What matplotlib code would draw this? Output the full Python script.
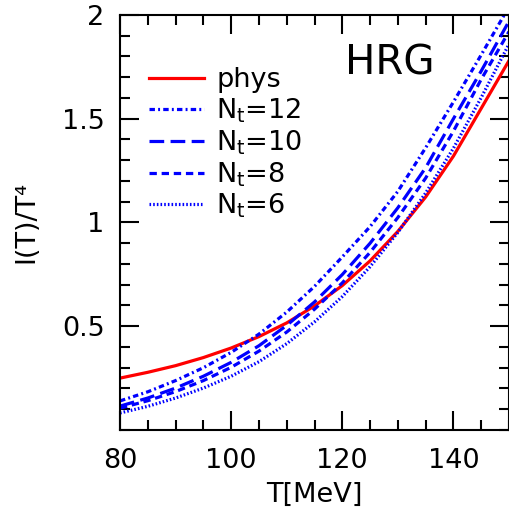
import matplotlib
matplotlib.use("Agg")
import matplotlib.pyplot as plt

plt.rcParams['font.family'] = 'DejaVu Sans'
plt.rcParams['mathtext.default'] = 'regular'

# temperature grid [MeV]
T = [80, 85, 90, 95, 100, 105, 110, 115, 120, 125, 130, 135, 140, 145, 150]

# I(T)/T^4 from the hadron resonance gas
phys = [0.25, 0.278, 0.310, 0.349, 0.395, 0.450, 0.516, 0.598, 0.696, 0.815, 0.957, 1.123, 1.32, 1.55, 1.78]
nt12 = [0.140, 0.184, 0.238, 0.300, 0.374, 0.462, 0.568, 0.692, 0.834, 0.98, 1.15, 1.36, 1.581, 1.808, 2.04]
nt10 = [0.115, 0.154, 0.202, 0.259, 0.326, 0.406, 0.504, 0.617, 0.749, 0.900, 1.071, 1.264, 1.50, 1.73, 1.97]
nt8 = [0.105, 0.141, 0.185, 0.238, 0.302, 0.380, 0.472, 0.582, 0.709, 0.856, 1.024, 1.214, 1.44, 1.69, 1.92]
nt6 = [0.082, 0.114, 0.154, 0.202, 0.259, 0.329, 0.416, 0.521, 0.643, 0.787, 0.952, 1.142, 1.358, 1.602, 1.86]

labels = ['phys', 'N$_t$=12', 'N$_t$=10', 'N$_t$=8', 'N$_t$=6']

fig = plt.figure(figsize=(5.09, 5.12), dpi=100)
ax = fig.add_axes([0.2358, 0.1602, 0.7642, 0.8105])

lw = 2.3
ax.plot(T, phys, color='red', lw=lw, label=labels[0])
ax.plot(T, nt12, color='blue', lw=lw, dashes=(1.7, 1.0, 0.6, 1.0), label=labels[1])
ax.plot(T, nt10, color='blue', lw=lw, dashes=(4.6, 2.0), label=labels[2])
ax.plot(T, nt8, color='blue', lw=lw, dashes=(2.3, 1.5), label=labels[3])
ax.plot(T, nt6, color='blue', lw=lw, dashes=(0.5, 0.65), label=labels[4])

ax.set_xlim(80, 150)
ax.set_ylim(0, 2)
ax.set_xticks([80, 100, 120, 140])
ax.set_xticks(range(80, 151, 5), minor=True)
ax.set_yticks([0.5, 1, 1.5, 2])
ax.set_yticklabels(['0.5', '1', '1.5', '2'])
ax.set_yticks([i / 10 for i in range(0, 21)], minor=True)

ax.tick_params(which='both', direction='in', top=True, right=True, width=1.5, labelsize=19.5)
ax.tick_params(axis='x', pad=13)
ax.tick_params(axis='y', pad=11)
ax.tick_params(which='major', length=14)
ax.tick_params(which='minor', length=7.5)
for s in ax.spines.values():
    s.set_linewidth(1.5)

ax.set_xlabel('T[MeV]', fontsize=19.5, labelpad=6)
ax.set_ylabel('I(T)/T⁴', fontsize=19.5, labelpad=16)

ax.text(0.694, 0.884, 'HRG', transform=ax.transAxes, fontsize=29, ha='center', va='center')

ax.legend(loc='upper left', bbox_to_anchor=(0.046, 0.9), frameon=False, fontsize=19.5,
          handlelength=2.05, handletextpad=0.45, labelspacing=0.12, borderaxespad=0)

fig.savefig('out.png', dpi=100)
